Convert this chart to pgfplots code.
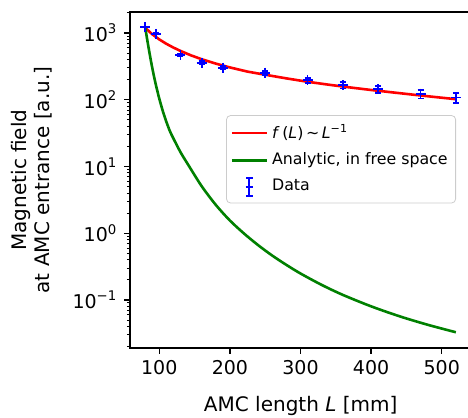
\documentclass[border=0pt]{standalone}
\usepackage{fontspec}
\setmainfont{DejaVu Sans}
\usepackage{pgfplots}
\pgfplotsset{compat=1.18}
\definecolor{mplgreen}{HTML}{008000}
\definecolor{legedge}{HTML}{CCCCCC}
\begin{document}
\begin{tikzpicture}[font=\fontsize{9.5}{11.4}\selectfont]
\begin{axis}[
  name=ax,
  scale only axis,
  width=170.7pt, height=168pt,
  xmin=58.5, xmax=542,
  ymode=log,
  ymin=0.01905, ymax=2065,
  axis line style={line width=0.7pt},
  every tick/.style={black, line width=0.7pt},
  every minor tick/.style={black, line width=0.5pt},
  tick align=outside,
  major tick length=2.8pt,
  minor tick length=1.6pt,
  xtick pos=bottom, ytick pos=left,
  xtick={100,200,300,400,500},
  ytick={0.1,1,10,100,1000},
  yticklabels={10\textsuperscript{−1},10\textsuperscript{0},10\textsuperscript{1},10\textsuperscript{2},10\textsuperscript{3}},
  minor ytick={0.02,0.03,0.04,0.05,0.06,0.07,0.08,0.09,0.2,0.3,0.4,0.5,0.6,0.7,0.8,0.9,2,3,4,5,6,7,8,9,20,30,40,50,60,70,80,90,200,300,400,500,600,700,800,900,2000},
  /pgf/number format/assume math mode=true,
  xticklabel style={font=\fontsize{9.5}{11.4}\selectfont},
  yticklabel style={font=\fontsize{9.5}{11.4}\selectfont},
  xlabel={AMC length \textit{L} [mm]},
  ylabel={Magnetic field\\at AMC entrance [a.u.]},
  every axis x label/.style={at={(rel axis cs:0.5,0)}, anchor=north, yshift=-24pt, inner sep=0pt, font=\fontsize{10}{12}\selectfont},
  every axis y label/.style={at={(rel axis cs:0,0.5)}, xshift=-38.5pt, rotate=90, anchor=south, inner sep=0pt, align=center, font=\fontsize{10}{11.5}\selectfont},
  legend style={at={(0.955,0.693)}, anchor=north east, draw=legedge, rounded corners=2pt, fill=white, fill opacity=0.8, text opacity=1, draw opacity=1, font=\fontsize{7.9}{9.5}\selectfont, inner xsep=2pt, inner ysep=2.5pt, row sep=1.8pt},
  legend cell align=left,
]
\addplot[red, line width=1.3pt, legend image code/.code={\draw[red, line width=1.3pt] (0pt,0pt) -- (17.5pt,0pt);}] coordinates {
(80,1200) (90,958) (100,802) (110,689) (120,605) (130,539) (145,462) (160,405) (180,348) (200,305) (225,264) (250,237) (280,209) (310,186) (340,168) (370,153) (400,140) (430,129) (460,119) (490,110) (520,102)
};
\addlegendentry{\textit{f}\,(\textit{L})\,∼\,\textit{L}\textsuperscript{−1}}
\addplot[mplgreen, line width=1.3pt, smooth, tension=0.5, legend image code/.code={\draw[mplgreen, line width=1.3pt] (0pt,0pt) -- (17.5pt,0pt);}] coordinates {
(80,1230) (82.5,841) (85,589) (87.5,417) (90,302) (92.5,224) (95,170) (97.5,132) (100,103.5) (105,67.6) (110,46.8) (115,33.9) (120,26.3) (130,16.4) (140,11.0) (160,5.07) (180,2.66) (200,1.55) (220,0.989) (240,0.662) (260,0.462) (280,0.335) (300,0.249) (330,0.168) (360,0.119) (400,0.0802) (440,0.0570) (480,0.0425) (520,0.0328)
};
\addlegendentry{Analytic, in free space}
\addplot[blue, only marks, mark=+, mark size=2.5pt, mark options={line width=0.9pt},
  legend image code/.code={
    \draw[blue, line width=1pt, opacity=1] (8.75pt,-4.5pt) -- (8.75pt,4.5pt);
    \draw[blue, line width=1pt, opacity=1] (7.1pt,-4.5pt) -- (10.4pt,-4.5pt);
    \draw[blue, line width=1pt, opacity=1] (7.1pt,4.5pt) -- (10.4pt,4.5pt);
    \draw[blue, line width=1pt, opacity=1] (6.9pt,0pt) -- (10.6pt,0pt);
  },
  error bars/.cd, y dir=both, y explicit,
  error bar style={blue, line width=0.8pt},
  error mark options={rotate=90, blue, mark size=1.5pt, line width=0.8pt}]
  coordinates {
(80,1230) +- (0,18)
(95,975) +- (0,18)
(130,473) +- (0,18)
(160,360) +- (0,18)
(190,302) +- (0,18)
(250,254) +- (0,18)
(310,195) +- (0,18)
(360,166) +- (0,18)
(410,144) +- (0,18)
(470,123) +- (0,18)
(520,108) +- (0,18)
};
\addlegendentry{Data}
\coordinate (SW) at (rel axis cs:0,0);
\end{axis}
\pgfresetboundingbox
\path[use as bounding box] ([shift={(-65pt,-35pt)}]SW) rectangle ([shift={(169pt,174pt)}]SW);
\end{tikzpicture}
\end{document}
